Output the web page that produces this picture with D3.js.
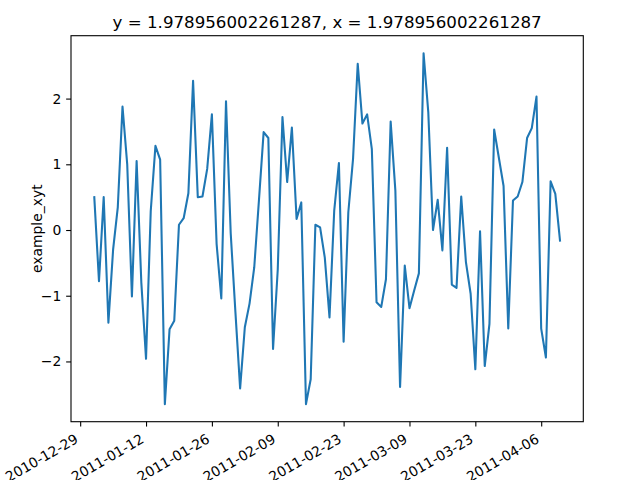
<!DOCTYPE html>
<html>
<head>
<meta charset="utf-8">
<script src="https://cdn.jsdelivr.net/npm/d3@7"></script>
<style>
  html, body { margin: 0; padding: 0; background: #fff; }
  svg { display: block; font-family: "DejaVu Sans", sans-serif; }
</style>
</head>
<body>
<svg id="chart" width="640" height="480"></svg>
<script>
// ---- data ----
const startDate = "2011-01-01";
const values = [
  0.50, -0.78, 0.50, -1.41, -0.30, 0.35, 1.88, 1.00, -1.01, 1.05,
  -0.80, -1.96, 0.29, 1.28, 1.07, -2.65, -1.51, -1.38, 0.08, 0.18,
  0.56, 2.27, 0.50, 0.51, 0.93, 1.76, -0.21, -1.04, 1.96, -0.05,
  -1.25, -2.41, -1.48, -1.12, -0.57, 0.45, 1.49, 1.40, -1.81, -0.60,
  1.72, 0.73, 1.56, 0.17, 0.42, -2.65, -2.27, 0.08, 0.04, -0.42,
  -1.33, 0.29, 1.02, -1.70, 0.27, 1.08, 2.53, 1.62, 1.76, 1.23,
  -1.10, -1.17, -0.75, 1.65, 0.60, -2.39, -0.54, -1.19, -0.92, -0.66,
  2.69, 1.79, 0.00, 0.46, -0.31, 1.25, -0.83, -0.88, 0.51, -0.49,
  -0.97, -2.12, -0.02, -2.07, -1.43, 1.53, 1.10, 0.67, -1.50, 0.45,
  0.51, 0.73, 1.40, 1.55, 2.03, -1.50, -1.94, 0.74, 0.55, -0.16
];
const xTickLabels = ["2010-12-29", "2011-01-12", "2011-01-26", "2011-02-09",
                     "2011-02-23", "2011-03-09", "2011-03-23", "2011-04-06"];
const yTicks = [-2, -1, 0, 1, 2];
const titleText = "y = 1.978956002261287, x = 1.978956002261287";
const yLabel = "example_xyt";

// ---- layout ----
const W = 640, H = 480;
const L = 71, R = 583.3, T = 35.7, B = 421.7;
const parse = d3.utcParse("%Y-%m-%d");
const fmt = d3.utcFormat("%Y-%m-%d");
const t0 = parse(startDate);
const dates = values.map((v, i) => d3.utcDay.offset(t0, i));
const data = values.map((v, i) => ({ date: dates[i], value: v }));

const xExt = d3.extent(dates).map(d => +d);
const xPad = (xExt[1] - xExt[0]) * 0.05;
const x = d3.scaleUtc().domain([new Date(xExt[0] - xPad), new Date(xExt[1] + xPad)]).range([L, R]);
const yExt = d3.extent(values);
const yPad = (yExt[1] - yExt[0]) * 0.05;
const y = d3.scaleLinear().domain([yExt[0] - yPad, yExt[1] + yPad]).range([B, T]);

const svg = d3.select("#chart");
svg.append("rect").attr("width", W).attr("height", H).attr("fill", "#fff");

// line
svg.append("path")
  .datum(data)
  .attr("fill", "none")
  .attr("stroke", "#1f77b4")
  .attr("stroke-width", 2.08)
  .attr("stroke-linejoin", "round")
  .attr("stroke-linecap", "square")
  .attr("d", d3.line().x(d => x(d.date)).y(d => y(d.value)));

// spines
svg.append("rect")
  .attr("x", L).attr("y", T).attr("width", R - L).attr("height", B - T)
  .attr("fill", "none").attr("stroke", "#000").attr("stroke-width", 1.1);

// x axis
const xTickDates = xTickLabels.map(parse);
const xAxis = d3.axisBottom(x).tickValues(xTickDates).tickSize(4.86).tickPadding(0).tickFormat(fmt);
const gx = svg.append("g").attr("transform", `translate(0,${B})`).call(xAxis);
gx.select(".domain").remove();
gx.selectAll(".tick line").attr("stroke", "#000").attr("stroke-width", 1.1);
gx.selectAll(".tick text")
  .attr("fill", "#000")
  .style("font-size", "13.9px")
  .style("font-family", "'DejaVu Sans', sans-serif")
  .attr("text-anchor", "end")
  .attr("y", 0)
  .attr("transform", "translate(0,23) rotate(-30)")
  .attr("dy", "-0.236em");

// y axis
const yAxis = d3.axisLeft(y).tickValues(yTicks).tickSize(4.86).tickPadding(4.86)
  .tickFormat(d => d < 0 ? "\u2212" + Math.abs(d) : String(d));
const gy = svg.append("g").attr("transform", `translate(${L},0)`).call(yAxis);
gy.select(".domain").remove();
gy.selectAll(".tick line").attr("stroke", "#000").attr("stroke-width", 1.1);
gy.selectAll(".tick text")
  .attr("fill", "#000")
  .style("font-size", "13.9px")
  .style("font-family", "'DejaVu Sans', sans-serif");

// y label
svg.append("text")
  .attr("transform", `translate(37,${(T + B) / 2}) rotate(-90)`)
  .attr("text-anchor", "middle")
  .attr("dy", "0.35em")
  .style("font-size", "13.9px")
  .text(yLabel);

// title
svg.append("text")
  .attr("x", (L + R) / 2)
  .attr("y", 27.5)
  .attr("text-anchor", "middle")
  .style("font-size", "16.67px")
  .text(titleText);
</script>
</body>
</html>
